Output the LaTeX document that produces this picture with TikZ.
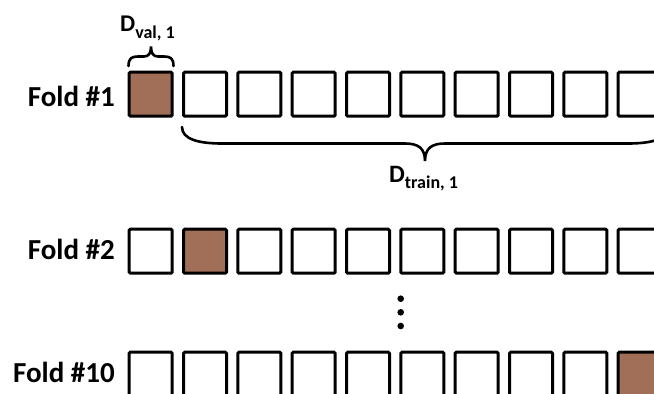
\documentclass[tikz,border=0pt]{standalone}
\usepackage{fontspec}
\setmainfont{Carlito}
\definecolor{valfill}{RGB}{161,110,88}
\begin{document}
\begin{tikzpicture}[x=1pt,y=-1pt,
  cell/.style={draw=black, line width=3pt, minimum width=43pt, minimum height=44pt,
    inner sep=0pt, rounded corners=1.2pt, fill=white},
  valcell/.style={cell, fill=valfill},
  foldlabel/.style={anchor=base east, inner sep=0pt, font=\fontsize{29}{29}\selectfont\bfseries},
  setlabel/.style={anchor=base west, inner sep=0pt, font=\bfseries},
  bracepath/.style={draw=black, line width=2.6pt, line cap=round},
  dot/.style={circle, fill=black, inner sep=0pt, minimum size=6.6pt}]
\useasboundingbox (0,0) rectangle (654,394);
\clip (0,0) rectangle (654,394);

% three folds, ten cells each; the validation cell is filled
\foreach \r/\y/\h in {1/94.2/0, 2/251.2/1, 3/374.2/9}{
  \foreach \i in {0,...,9}{
    \pgfmathsetmacro\cx{150.7+54.33*\i}
    \ifnum\i=\h
      \node[valcell] (r\r c\i) at (\cx,\y) {};
    \else
      \node[cell] (r\r c\i) at (\cx,\y) {};
    \fi
  }
}

% fold labels
\node[foldlabel] (f1) at (115,106.7) {Fold \#1};
\node[foldlabel] (f2) at (115,259) {Fold \#2};
\node[foldlabel] (f10) at (115,382.7) {Fold \#10};

% brace over the validation cell
\draw[bracepath] (128.5,66) .. controls (128.5,58) and (132,56.5) .. (138,56.5)
  -- (144,56.5) .. controls (149,56.5) and (151,53) .. (151,46.5)
  .. controls (151,53) and (153,56.5) .. (158,56.5)
  -- (164,56.5) .. controls (170,56.5) and (173.5,58) .. (173.5,66);
\node[setlabel] (dval) at (120,31.7)
  {\fontsize{24}{24}\selectfont D\raisebox{-6.6pt}{\fontsize{18}{18}\selectfont val, 1}};

% brace under the training cells
\draw[bracepath] (182,127) .. controls (182,139) and (198,143.5) .. (222,143.5)
  -- (405,143.5) .. controls (418,143.5) and (425,148) .. (425,161)
  .. controls (425,148) and (432,143.5) .. (445,143.5)
  -- (628,143.5) .. controls (652,143.5) and (668,139) .. (668,127);
\node[setlabel] (dtrain) at (389,182)
  {\fontsize{25}{25}\selectfont D\raisebox{-6.5pt}{\fontsize{18}{18}\selectfont train, 1}};

% vertical ellipsis between fold 2 and fold 10
\node[dot] (e1) at (400.7,298.7) {};
\node[dot] (e2) at (400.7,312.3) {};
\node[dot] (e3) at (400.7,326) {};
\end{tikzpicture}
\end{document}
